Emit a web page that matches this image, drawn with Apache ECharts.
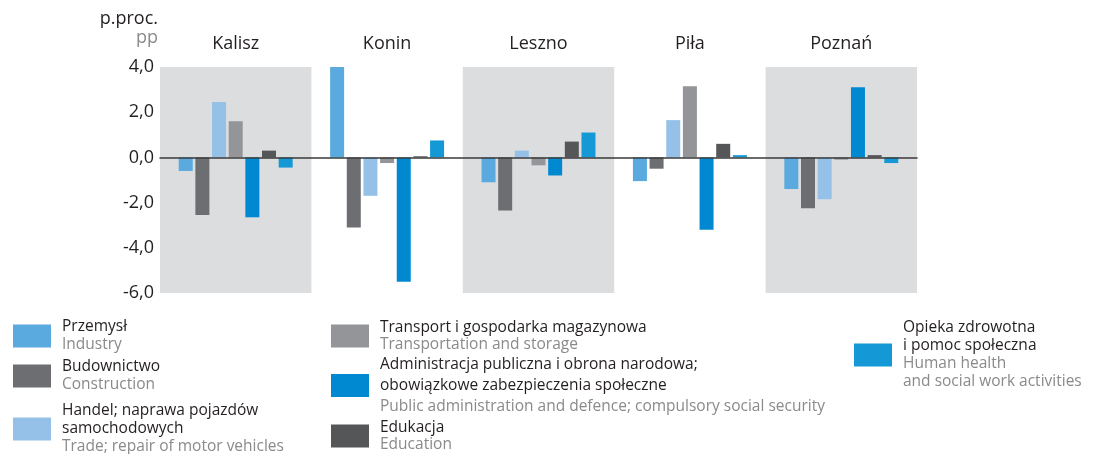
<!DOCTYPE html>
<html>
<head>
<meta charset="utf-8">
<script src="https://cdn.jsdelivr.net/npm/echarts@6/dist/echarts.min.js"></script>
<style>
  html, body { margin: 0; padding: 0; background: #fff; }
  #main { width: 1097px; height: 454px; }
</style>
</head>
<body>
<div id="main"></div>
<script>
// regions
var cities = ['Kalisz', 'Konin', 'Leszno', 'Piła', 'Poznań'];

// branch names, Polish and English
var namesPl = [
  'Przemysł',
  'Budownictwo',
  'Handel; naprawa pojazdów\nsamochodowych',
  'Transport i gospodarka magazynowa',
  'Administracja publiczna i obrona narodowa;\nobowiązkowe zabezpieczenia społeczne',
  'Edukacja',
  'Opieka zdrowotna\ni pomoc społeczna'
];
var namesEn = [
  'Industry',
  'Construction',
  'Trade; repair of motor vehicles',
  'Transportation and storage',
  'Public administration and defence; compulsory social security',
  'Education',
  'Human health\nand social work activities'
];

// change in p.p., one value per city
var przemysl      = [-0.6, 4.0, -1.1, -1.05, -1.4];
var budownictwo   = [-2.55, -3.1, -2.35, -0.5, -2.25];
var handel        = [2.45, -1.7, 0.3, 1.65, -1.85];
var transport     = [1.6, -0.25, -0.35, 3.15, -0.1];
var administracja = [-2.65, -5.5, -0.8, -3.2, 3.1];
var edukacja      = [0.3, 0.05, 0.7, 0.6, 0.1];
var opieka        = [-0.45, 0.75, 1.1, 0.1, -0.25];

var yTicks = [-6, -4, -2, 0, 2, 4];

var seriesValues = [przemysl, budownictwo, handel, transport, administracja, edukacja, opieka];
var colors = ['#5aaadf', '#6d6e71', '#95c1e8', '#939598', '#0088d0', '#555658', '#1599d6'];

// where each legend entry sits
var legendSpots = [
  { left: 13, top: 318, lh: 18 },
  { left: 13, top: 358, lh: 18 },
  { left: 13, top: 402, lh: 18 },
  { left: 331, top: 319, lh: 17 },
  { left: 331, top: 354, lh: 21 },
  { left: 331, top: 419, lh: 17 },
  { left: 854, top: 319, lh: 18 }
];

var fontFam = 'Open Sans';

var myChart = echarts.init(document.getElementById('main'));

var series = seriesValues.map(function (vals, i) {
  return {
    name: namesPl[i],
    type: 'bar',
    xAxisIndex: 0,
    barWidth: 14,
    barGap: '19%',
    itemStyle: { color: colors[i] },
    data: vals
  };
});

var legends = legendSpots.map(function (spot, i) {
  return {
    left: spot.left,
    top: spot.top,
    padding: 0,
    orient: 'vertical',
    itemWidth: 38,
    itemHeight: 23,
    icon: 'rect',
    data: [namesPl[i]],
    formatter: function (name) {
      var k = namesPl.indexOf(name);
      return '{a|' + namesPl[k] + '}\n{b|' + namesEn[k] + '}';
    },
    textStyle: {
      fontFamily: fontFam,
      lineHeight: spot.lh,
      rich: {
        a: { fontSize: 15.5, color: '#231f20', lineHeight: spot.lh, padding: [0, 0, 0, 6], fontFamily: fontFam },
        b: { fontSize: 15.5, color: '#8a8a8c', lineHeight: spot.lh, padding: [0, 0, 0, 6], fontFamily: fontFam }
      }
    }
  };
});

var option = {
  animation: false,
  graphic: [
    {
      type: 'text',
      x: 158, y: 19,
      style: { text: 'p.proc.', fill: '#231f20', font: '18px "Open Sans"', align: 'right', verticalAlign: 'middle' }
    },
    {
      type: 'text',
      x: 158, y: 38,
      style: { text: 'pp', fill: '#8a8a8c', font: '18px "Open Sans"', align: 'right', verticalAlign: 'middle' }
    }
  ],
  legend: legends,
  grid: { left: 160, right: 180, top: 67, bottom: 161 },
  xAxis: [
    {
      type: 'category',
      data: cities,
      position: 'bottom',
      z: 5,
      axisLine: { onZero: true, lineStyle: { color: '#3a3a3a', width: 1.5 } },
      axisTick: { show: false },
      axisLabel: { show: false }
    },
    {
      type: 'category',
      data: cities,
      position: 'top',
      axisLine: { show: false, onZero: false },
      axisTick: { show: false },
      axisLabel: { margin: 14, fontFamily: fontFam, fontSize: 18, color: '#231f20' },
      splitArea: { show: true, areaStyle: { color: ['#dcdddf', 'rgba(255,255,255,0)'] } }
    }
  ],
  yAxis: {
    type: 'value',
    min: yTicks[0],
    max: yTicks[yTicks.length - 1],
    interval: 2,
    axisLine: { show: false },
    axisTick: { show: false },
    splitLine: { show: false },
    axisLabel: {
      margin: 6,
      fontFamily: fontFam,
      fontSize: 18,
      color: '#231f20',
      formatter: function (v) { return v.toFixed(1).replace('.', ','); }
    }
  },
  series: series
};

myChart.setOption(option);
</script>
</body>
</html>
